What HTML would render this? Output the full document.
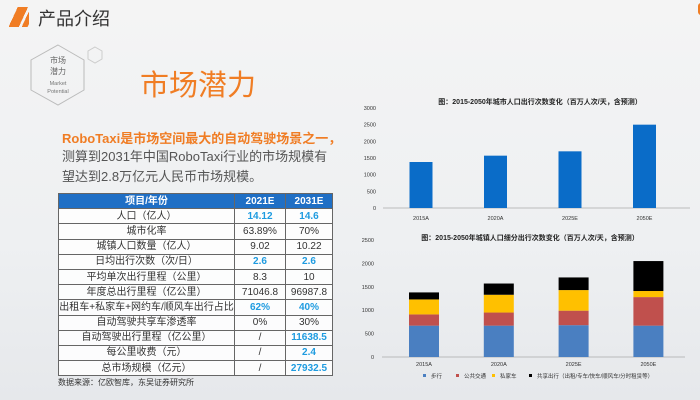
<!DOCTYPE html>
<html><head><meta charset="utf-8">
<style>
body{margin:0;width:700px;height:400px;overflow:hidden;font-family:"Liberation Sans","Noto Sans CJK SC",sans-serif;}
#page{position:relative;width:700px;height:400px;background:linear-gradient(180deg,#f4f4f4 0%,#eef0f2 60%,#e6e8eb 100%);}
.abs{position:absolute;}
table{border-collapse:collapse;position:absolute;left:58px;top:193px;width:275px;font-size:10px;table-layout:fixed;}
td{border:1px solid #666;height:14.2px;padding:0;text-align:center;color:#333;background:rgba(255,255,255,0.85);line-height:13px;white-space:nowrap;overflow:hidden;}
td.b{color:#1e9be0;font-weight:bold;}
tr.h td{background:#1f6fc5;color:#fff;font-weight:bold;}
</style></head><body>
<div id="page">
<div class="abs" style="left:9px;top:7px;width:20px;height:20px;background:linear-gradient(115deg,transparent 30%,#f07d24 30%,#f07d24 65%,transparent 65%,transparent 75%,#f07d24 75%,#f07d24 95%,transparent 95%);"></div>
<div class="abs" style="left:38px;top:5px;font-size:18px;color:#333;">产品介绍</div>
<div class="abs" style="left:698px;top:3px;width:6px;height:12px;background:#f07d24;border-radius:6px;"></div>
<svg class="abs" style="left:25px;top:40px" width="90" height="70">
<polygon points="33,5 59,20 59,50 33,65 6,50 6,20" fill="none" stroke="#bbb"/>
<polygon points="70,7 77,11 77,19 70,23 63,19 63,11" fill="none" stroke="#ccc"/>
<text x="33" y="23" font-size="8" fill="#666" text-anchor="middle">市场</text>
<text x="33" y="34" font-size="8" fill="#666" text-anchor="middle">潜力</text>
<text x="33" y="45" font-size="5.5" fill="#777" text-anchor="middle">Market</text>
<text x="33" y="53" font-size="5.5" fill="#777" text-anchor="middle">Potential</text>
</svg>
<div class="abs" style="left:140px;top:62px;font-size:29px;color:#f07d24;">市场潜力</div>
<div class="abs" style="left:62px;top:128px;font-size:13px;color:#f07d24;font-weight:bold;">RoboTaxi是市场空间最大的自动驾驶场景之一，</div>
<div class="abs" style="left:62px;top:147px;font-size:13px;color:#555;line-height:20px;width:270px;">测算到2031年中国RoboTaxi行业的市场规模有望达到2.8万亿元人民币市场规模。</div>
<table>
<tr class="h"><td style="width:175px">项目/年份</td><td style="width:50px">2021E</td><td>2031E</td></tr>
<tr><td>人口（亿人）</td><td class="b">14.12</td><td class="b">14.6</td></tr>
<tr><td>城市化率</td><td>63.89%</td><td>70%</td></tr>
<tr><td>城镇人口数量（亿人）</td><td>9.02</td><td>10.22</td></tr>
<tr><td>日均出行次数（次/日）</td><td class="b">2.6</td><td class="b">2.6</td></tr>
<tr><td>平均单次出行里程（公里）</td><td>8.3</td><td>10</td></tr>
<tr><td>年度总出行里程（亿公里）</td><td>71046.8</td><td>96987.8</td></tr>
<tr><td>出租车+私家车+网约车/顺风车出行占比</td><td class="b">62%</td><td class="b">40%</td></tr>
<tr><td>自动驾驶共享车渗透率</td><td>0%</td><td>30%</td></tr>
<tr><td>自动驾驶出行里程（亿公里）</td><td>/</td><td class="b">11638.5</td></tr>
<tr><td>每公里收费（元）</td><td>/</td><td class="b">2.4</td></tr>
<tr><td>总市场规模（亿元）</td><td>/</td><td class="b">27932.5</td></tr>
</table>
<div class="abs" style="left:58px;top:377px;font-size:8px;color:#333;">数据来源：亿欧智库，东吴证券研究所</div>
<svg class="abs" style="left:0;top:0" width="700" height="400" id="charts"></svg>
</div>
<script>
const cats=["2015A","2020A","2025E","2050E"];
const totalTrips=[1380,1570,1700,2500];
const topTicks=[0,500,1000,1500,2000,2500,3000];
const walk=[670,670,680,670];
const transit=[240,280,310,610];
const privateCar=[320,380,440,130];
const shared=[150,240,270,640];
const botTicks=[0,500,1000,1500,2000,2500];
const seriesNames=["步行","公共交通","私家车","共享出行（出租/专车/快车/顺风车/分时租赁等）"];
const colors=["#4a7fc1","#c0504d","#ffc000","#000"];
const svg=document.getElementById('charts');
const NS="http://www.w3.org/2000/svg";
function mk(tag,attrs,txt){const e=document.createElementNS(NS,tag);for(const k in attrs)e.setAttribute(k,attrs[k]);if(txt!=null)e.textContent=txt;svg.appendChild(e);return e;}
const tY=v=>208-v/3000*100;
const tX=i=>421+i*74.5;
let t=mk('text',{x:540,y:104,'font-size':7,'font-weight':'bold','text-anchor':'middle',fill:'#222'},'图：2015-2050年城市人口出行次数变化（百万人次/天，含预测）');


topTicks.forEach(v=>{const e=mk('text',{x:376,y:tY(v)+2,'font-size':5.5,'text-anchor':'end',fill:'#333'},v);

});
let ax=mk('line',{x1:383,x2:690,y1:208,y2:208,stroke:'#aaa','stroke-width':0.7});


cats.forEach((c,i)=>{
const r=mk('rect',{x:tX(i)-11.5,y:tY(totalTrips[i]),width:23,height:208-tY(totalTrips[i]),fill:'#0a6cc8'});


const l=mk('text',{x:tX(i),y:220,'font-size':5.5,'text-anchor':'middle',fill:'#333'},c);


});
const bY=v=>357-v/2500*117;
const bX=i=>424+i*74.8;
t=mk('text',{x:530,y:240,'font-size':7,'font-weight':'bold','text-anchor':'middle',fill:'#222'},'图：2015-2050年城镇人口细分出行次数变化（百万人次/天，含预测）');


botTicks.forEach(v=>{const e=mk('text',{x:374,y:bY(v)+2,'font-size':5.5,'text-anchor':'end',fill:'#333'},v);

});
ax=mk('line',{x1:382,x2:685,y1:357,y2:357,stroke:'#aaa','stroke-width':0.7});


const series=[walk,transit,privateCar,shared];
cats.forEach((c,i)=>{
let base=0;
series.forEach((s,k)=>{
const r=mk('rect',{x:bX(i)-15,y:bY(base+s[i]),width:30,height:bY(base)-bY(base+s[i]),fill:colors[k]});


base+=s[i];});
const l=mk('text',{x:bX(i),y:366,'font-size':5.5,'text-anchor':'middle',fill:'#333'},c);


});
const lx=[423,456,492,529];
seriesNames.forEach((n,k)=>{
const r=mk('rect',{x:lx[k],y:374,width:3,height:3,fill:colors[k]});


const e=mk('text',{x:lx[k]+8,y:378,'font-size':5.5,fill:'#333'},n);


});
</script>
</body></html>
